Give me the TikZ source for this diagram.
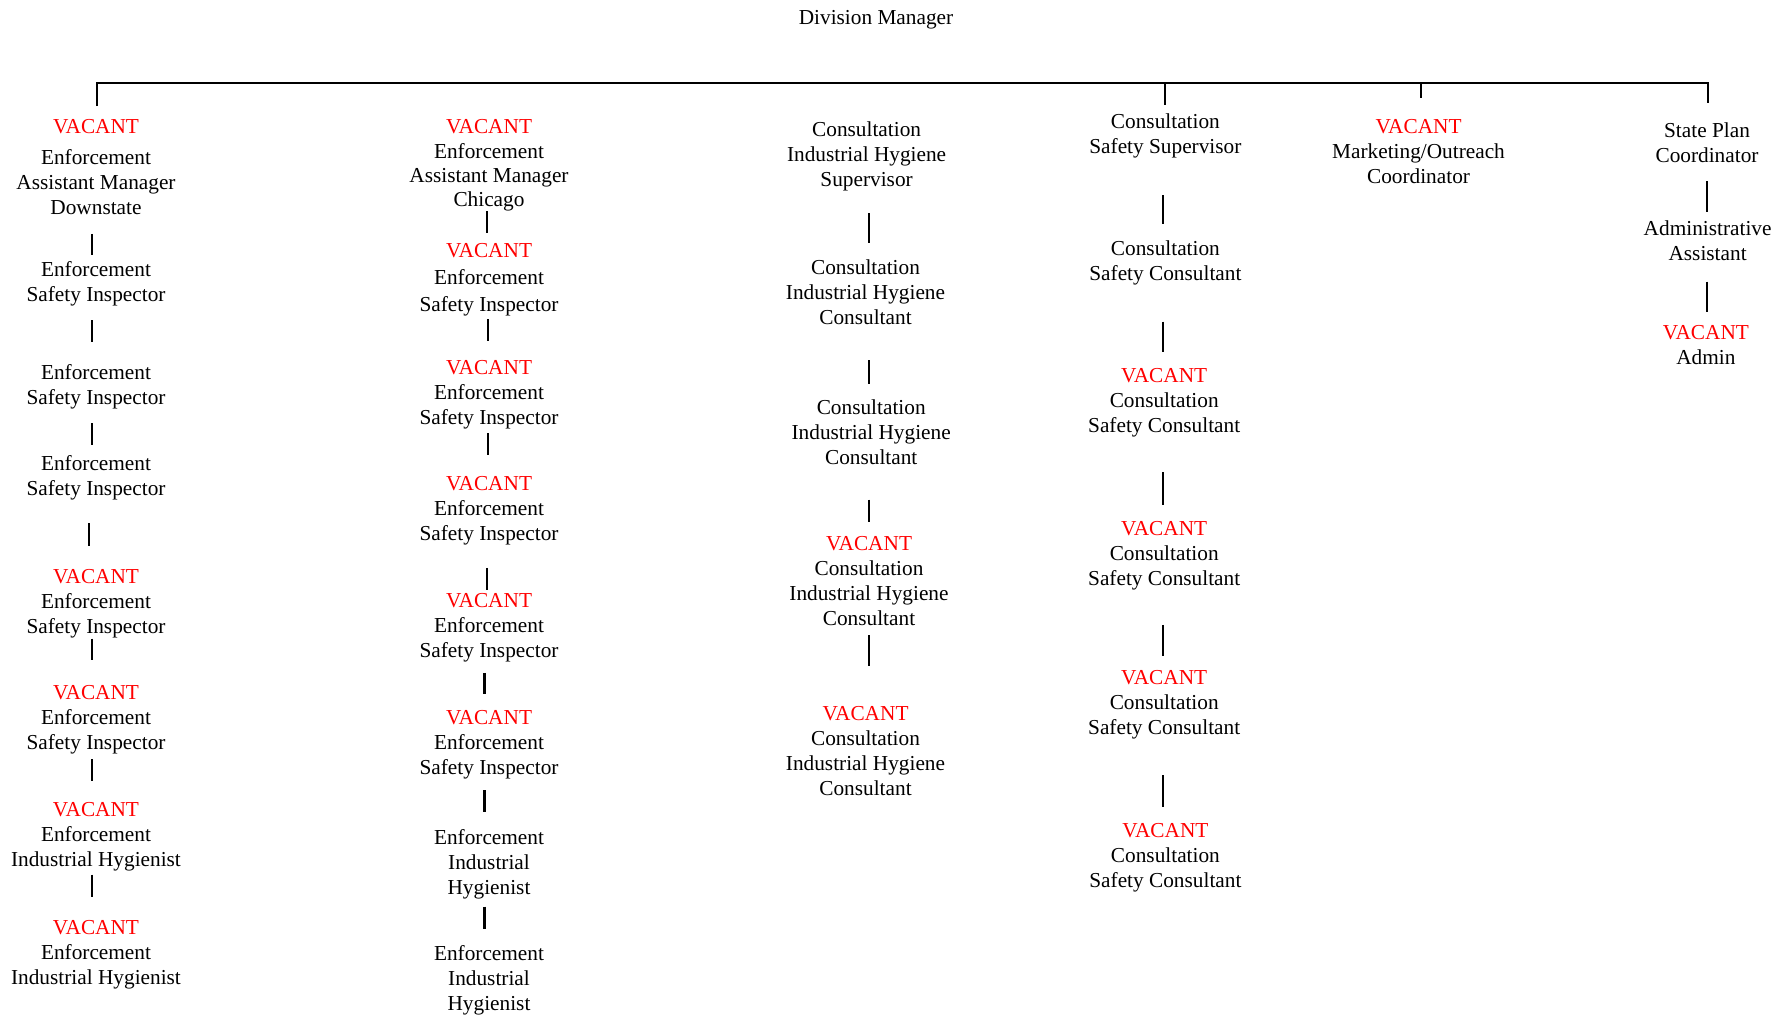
\documentclass[tikz,border=0pt]{standalone}
\usepackage{fontspec}
\setmainfont{Liberation Serif}
\usetikzlibrary{calc}
\tikzset{
  lbl/.style={anchor=north, inner sep=0pt, align=center, font=\fontsize{21.3}{25}\selectfont},
  conn/.style={line width=2.5pt},
  bus/.style={line width=2.3pt},
}
\newcommand\vac{\textcolor{red}{VACANT}}
% connector from node #1 to node #2: x offset #3 from #1, top offset #4 below #1.north, end offset #5 from #2.north
\newcommand\conn[5]{%
  \path ($(#2.north)+(0,#5)$) coordinate (cb);
  \draw[conn] ($(#1.north)+(#3,#4)$) coordinate (ca) -- (ca |- cb);}
\begin{document}
\begin{tikzpicture}[x=1pt,y=-1pt]
\useasboundingbox (0,0) rectangle (1788,1015);

% top
\node[lbl] (dm) at (876,10) {Division Manager};
\coordinate (b1) at (97,83);
\coordinate (b4) at (1165,83);
\coordinate (b5) at (1421,83);
\coordinate (b6) at (1708,83);
\draw[bus] ($(b1)+(0,23)$) -- (b1) -- (b6) -- ++(0,20);
\draw[bus] (b4) -- ++(0,22);
\draw[bus] (b5) -- ++(0,15);

% column 1
\node[lbl] (n11) at (96,119.6) {\vac\\[6pt]Enforcement\\Assistant Manager\\Downstate};
\node[lbl] (n12) at (96,261) {Enforcement\\Safety Inspector};
\node[lbl] (n13) at (96,364.7) {Enforcement\\Safety Inspector};
\node[lbl] (n14) at (96,455.5) {Enforcement\\Safety Inspector};
\node[lbl] (n15) at (96,569) {\vac\\Enforcement\\Safety Inspector};
\node[lbl] (n16) at (96,685) {\vac\\Enforcement\\Safety Inspector};
\node[lbl] (n17) at (96,802.6) {\vac\\Enforcement\\Industrial Hygienist};
\node[lbl] (n18) at (96,920) {\vac\\Enforcement\\Industrial Hygienist};
\conn{n11}{n12}{-4}{114.2}{-5.6}
\conn{n12}{n13}{-4}{59.4}{-22.6}
\conn{n13}{n14}{-4}{58.3}{-10.8}
\conn{n14}{n15}{-7}{67.9}{-22.8}
\conn{n15}{n16}{-4}{69.6}{-24.8}
\conn{n16}{n17}{-4}{74.4}{-21.5}
\conn{n17}{n18}{-4}{72}{-22.6}

% column 2
\node[lbl, font=\fontsize{21.3}{24.3}\selectfont] (n21) at (489,119.6) {\vac\\Enforcement\\Assistant Manager\\Chicago};
\node[lbl] (n22) at (489,242.7) {\vac\\[2pt]Enforcement\\[2pt]Safety Inspector};
\node[lbl] (n23) at (489,360) {\vac\\Enforcement\\Safety Inspector};
\node[lbl] (n24) at (489,476.5) {\vac\\Enforcement\\Safety Inspector};
\node[lbl] (n25) at (489,592.8) {\vac\\Enforcement\\Safety Inspector};
\node[lbl] (n26) at (489,710) {\vac\\Enforcement\\Safety Inspector};
\node[lbl] (n27) at (489,828.8) {Enforcement\\Industrial\\Hygienist};
\node[lbl] (n28) at (489,945) {Enforcement\\Industrial\\Hygienist};
\conn{n21}{n22}{-2}{91.4}{-10.1}
\conn{n22}{n23}{-1}{76.6}{-19}
\conn{n23}{n24}{-1}{73.3}{-21.5}
\conn{n24}{n25}{-2}{91.4}{-3.3}
\conn{n25}{n26}{-4.4}{80}{-15.6}
\conn{n26}{n27}{-4.4}{80.2}{-16.9}
\conn{n27}{n28}{-4.4}{77.7}{-15.7}

% column 3
\node[lbl] (n31) at (866.6,122) {Consultation\\Industrial Hygiene\\Supervisor};
\node[lbl] (n32) at (865.5,260) {Consultation\\Industrial Hygiene\\Consultant};
\node[lbl] (n33) at (871.2,400) {Consultation\\Industrial Hygiene\\Consultant};
\node[lbl] (n34) at (869,535.8) {\vac\\Consultation\\Industrial Hygiene\\Consultant};
\node[lbl] (n35) at (865.5,705.7) {\vac\\Consultation\\Industrial Hygiene\\Consultant};
\conn{n31}{n32}{2.4}{91.2}{-17.1}
\conn{n32}{n33}{3.5}{100.3}{-15.7}
\conn{n33}{n34}{-2.2}{99.5}{-13.5}
\conn{n34}{n35}{0}{99.3}{-39.8}

% column 4
\node[lbl] (n41) at (1165.4,114) {Consultation\\Safety Supervisor};
\node[lbl] (n42) at (1165.4,240.4) {Consultation\\Safety Consultant};
\node[lbl] (n43) at (1164.2,368) {\vac\\Consultation\\Safety Consultant};
\node[lbl] (n44) at (1164.2,521) {\vac\\Consultation\\Safety Consultant};
\node[lbl] (n45) at (1164.2,670.3) {\vac\\Consultation\\Safety Consultant};
\node[lbl] (n46) at (1165.4,823.1) {\vac\\Consultation\\Safety Consultant};
\conn{n41}{n42}{-2.3}{81}{-16.9}
\conn{n42}{n43}{-2.3}{81.2}{-15.6}
\conn{n43}{n44}{-1.1}{104.1}{-15.8}
\conn{n44}{n45}{-1.1}{103.9}{-14.6}
\conn{n45}{n46}{-1.1}{105.1}{-15.8}

% column 5
\node[lbl] (n51) at (1418.5,119.6) {\vac\\Marketing/Outreach\\Coordinator};

% column 6
\node[lbl] (n61) at (1707,123) {State Plan\\Coordinator};
\node[lbl] (n62) at (1707.6,221) {Administrative\\Assistant};
\node[lbl] (n63) at (1705.9,325) {\vac\\Admin};
\conn{n61}{n62}{0}{58.3}{-8.9}
\conn{n62}{n63}{-0.6}{60.7}{-12.6}
\end{tikzpicture}
\end{document}
